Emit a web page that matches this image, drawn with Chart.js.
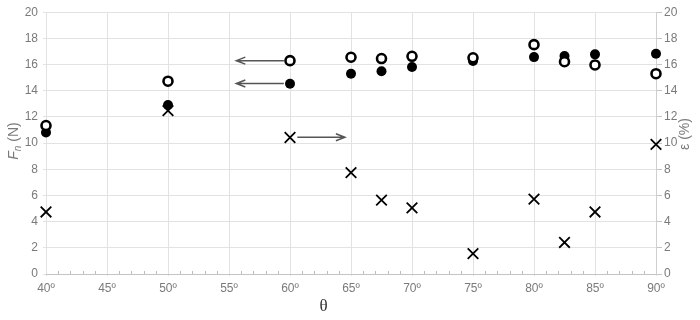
<!DOCTYPE html>
<html>
<head>
<meta charset="utf-8">
<script src="https://cdn.jsdelivr.net/npm/chart.js@4"></script>
<style>
  html, body { margin: 0; padding: 0; background: #fff; }
  #wrap { width: 700px; height: 320px; }
</style>
</head>
<body>
<div id="wrap"><canvas id="chart"></canvas></div>
<script>
"use strict";

// vinklar (grader)
const theta = [40, 50, 60, 65, 67.5, 70, 75, 80, 82.5, 85, 90];
// Fn ofylld cirkel
const fnOpen = [11.34, 14.73, 16.3, 16.56, 16.46, 16.63, 16.52, 17.52, 16.22, 15.97, 15.3];
// Fn fylld cirkel
const fnFilled = [10.81, 12.91, 14.53, 15.3, 15.49, 15.82, 16.28, 16.57, 16.66, 16.78, 16.82];
// epsilon (%) kryss, höger axel
const eps = [4.74, 12.48, 10.43, 7.74, 5.64, 5.05, 1.56, 5.72, 2.41, 4.74, 9.9];

const xTicks = [40, 45, 50, 55, 60, 65, 70, 75, 80, 85, 90];
const yTicks = [0, 2, 4, 6, 8, 10, 12, 14, 16, 18, 20];

// pilar: [x från, x till, y, axel]
const arrows = [
    [59.5, 55.6, 16.3, 'y'],
    [59.5, 55.6, 14.55, 'y'],
    [60.6, 64.5, 10.45, 'y2']
];

const gray = '#7a7a7a';
const tickFont = { family: "'Liberation Sans', Arial, sans-serif", size: 12 };

function pts(ys) {
    return theta.map((t, i) => ({ x: t, y: ys[i] }));
}

// Egen plugin: små streck, pilar och axeltitlar
const extras = {
    id: 'extras',
    beforeDatasetsDraw(chart) {
        const ctx = chart.ctx;
        const x = chart.scales.x;
        const a = chart.chartArea;
        ctx.save();
        ctx.strokeStyle = '#bdbdbd';
        ctx.lineWidth = 1;
        for (let d = 41; d < 90; d++) {
            if (d % 5 === 0) continue;
            const px = Math.round(x.getPixelForValue(d)) + 0.5;
            ctx.beginPath();
            ctx.moveTo(px, a.bottom - 3);
            ctx.lineTo(px, a.bottom);
            ctx.stroke();
        }
        // pilar
        ctx.strokeStyle = '#555';
        ctx.lineWidth = 1.5;
        arrows.forEach(([x1, x2, yv, ax]) => {
            const p1 = x.getPixelForValue(x1);
            const p2 = x.getPixelForValue(x2);
            const py = chart.scales[ax].getPixelForValue(yv);
            const dir = p2 > p1 ? 1 : -1;
            ctx.beginPath();
            ctx.moveTo(p1, py);
            ctx.lineTo(p2, py);
            ctx.moveTo(p2 - dir * 9, py - 3.5);
            ctx.lineTo(p2, py);
            ctx.lineTo(p2 - dir * 9, py + 3.5);
            ctx.stroke();
        });
        ctx.restore();
    },
    afterDraw(chart) {
        const ctx = chart.ctx;
        const a = chart.chartArea;
        ctx.save();
        ctx.fillStyle = gray;
        ctx.textBaseline = 'middle';

        // vänster titel F_n (N)
        ctx.save();
        ctx.translate(14, 141);
        ctx.rotate(-Math.PI / 2);
        const f1 = "italic 14px 'Liberation Sans', Arial, sans-serif";
        const f2 = "italic 10px 'Liberation Sans', Arial, sans-serif";
        const f3 = "14px 'Liberation Sans', Arial, sans-serif";
        ctx.font = f1; const wF = ctx.measureText('F').width;
        ctx.font = f2; const wn = ctx.measureText('n').width;
        ctx.font = f3; const wN = ctx.measureText(' (N)').width;
        let sx = -(wF + wn + wN) / 2;
        ctx.textAlign = 'left';
        ctx.font = f1; ctx.fillText('F', sx, 0); sx += wF;
        ctx.font = f2; ctx.fillText('n', sx, 4); sx += wn;
        ctx.font = f3; ctx.fillText(' (N)', sx, 0);
        ctx.restore();

        // höger titel ε (%)
        ctx.save();
        ctx.translate(685, 134);
        ctx.rotate(-Math.PI / 2);
        ctx.textAlign = 'center';
        ctx.font = "14px 'Liberation Sans', Arial, sans-serif";
        ctx.fillText('ε (%)', 0, 0);
        ctx.restore();

        // θ
        ctx.fillStyle = '#333';
        ctx.textAlign = 'center';
        ctx.font = "17px 'Liberation Serif', 'Times New Roman', serif";
        ctx.fillText('θ', a.left + 0.455 * (a.right - a.left), 307);
        ctx.restore();
    }
};

new Chart(document.getElementById('chart').getContext('2d'), {
    type: 'scatter',
    data: {
        datasets: [
            {
                label: 'Fn open',
                data: pts(fnOpen),
                yAxisID: 'y',
                clip: false,
                pointStyle: 'circle',
                pointRadius: 4.5,
                pointHoverRadius: 4.5,
                pointBorderWidth: 2.6,
                borderColor: '#000',
                backgroundColor: '#fff'
            },
            {
                label: 'Fn filled',
                data: pts(fnFilled),
                yAxisID: 'y',
                clip: false,
                pointStyle: 'circle',
                pointRadius: 5,
                pointHoverRadius: 5,
                pointBorderWidth: 0,
                borderColor: '#000',
                backgroundColor: '#000'
            },
            {
                label: 'eps',
                data: pts(eps),
                yAxisID: 'y2',
                clip: false,
                pointStyle: 'crossRot',
                pointRadius: 7.5,
                pointHoverRadius: 7.5,
                pointBorderWidth: 1.8,
                borderColor: '#000',
                backgroundColor: '#000'
            }
        ]
    },
    options: {
        responsive: true,
        maintainAspectRatio: false,
        animation: false,
        events: [],
        layout: { padding: { top: 8, left: 0, right: 0, bottom: 0 } },
        plugins: {
            legend: { display: false },
            tooltip: { enabled: false }
        },
        scales: {
            x: {
                type: 'linear',
                min: 40,
                max: 90,
                afterBuildTicks: s => { s.ticks = xTicks.map(v => ({ value: v })); },
                afterFit: s => { s.height = 46; },
                ticks: {
                    color: gray,
                    font: tickFont,
                    padding: 5,
                    maxRotation: 0,
                    callback: v => v + 'º'
                },
                grid: { color: '#e2e2e2', tickLength: 2, tickColor: '#e2e2e2' },
                border: { color: '#c4c4c4' }
            },
            y: {
                position: 'left',
                min: 0,
                max: 20,
                afterBuildTicks: s => { s.ticks = yTicks.map(v => ({ value: v })); },
                afterFit: s => { s.width = 46; },
                ticks: { color: gray, font: tickFont, padding: 5 },
                grid: { color: '#e2e2e2', tickLength: 3, tickColor: '#e2e2e2' },
                border: { display: false }
            },
            y2: {
                position: 'right',
                min: 0,
                max: 20,
                afterBuildTicks: s => { s.ticks = yTicks.map(v => ({ value: v })); },
                afterFit: s => { s.width = 44; },
                ticks: { color: gray, font: tickFont, padding: 2 },
                grid: { drawOnChartArea: false, tickLength: 6, tickColor: '#c4c4c4' },
                border: { color: '#d0d0d0' }
            }
        }
    },
    plugins: [extras]
});
</script>
</body>
</html>
